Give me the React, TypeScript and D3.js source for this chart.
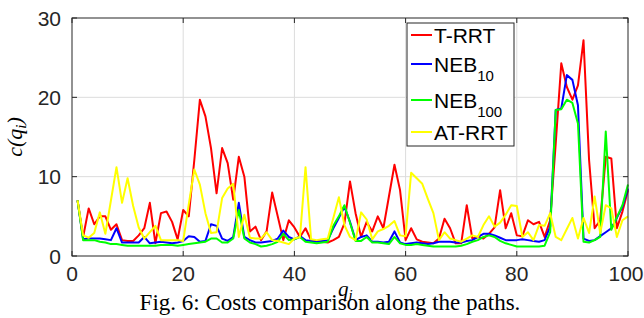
import * as d3 from "d3";

// costs per path node q_i, i = 1..100
const tRRT = [
  7.0, 2.4, 6.0, 4.0, 5.0, 5.0, 3.3, 4.0, 2.0, 1.9,
  1.9, 2.6, 3.5, 6.7, 1.6, 5.4, 5.6, 4.3, 2.1, 5.8,
  5.0, 12.1, 19.7, 17.6, 13.6, 7.9, 13.6, 11.7, 7.1, 12.5,
  10.0, 3.1, 3.7, 2.0, 3.1, 8.0, 5.0, 2.0, 4.5, 3.6,
  2.4, 3.5, 2.0, 1.9, 1.8, 1.7, 2.0, 2.4, 4.1, 9.4,
  5.4, 2.4, 4.3, 3.1, 5.0, 3.5, 7.5, 11.5, 8.3, 2.0,
  3.5, 2.1, 1.8, 1.7, 1.6, 2.2, 4.7, 3.5, 1.6, 1.6,
  6.4, 2.2, 2.4, 2.2, 2.8, 3.6, 8.3, 3.5, 5.4, 2.6,
  2.5, 4.5, 4.0, 4.3, 2.4, 4.5, 14.2, 24.3, 21.3, 19.7,
  21.5, 27.2, 12.1, 3.5, 4.5, 12.5, 12.3, 3.5, 5.6, 8.3,
];

const neb10 = [
  7.0, 2.1, 2.2, 2.2, 2.2, 2.1, 2.0, 3.5, 1.7, 1.7,
  1.7, 1.7, 2.4, 1.6, 1.7, 1.8, 1.7, 1.6, 1.7, 1.9,
  2.5, 2.4, 1.8, 1.9, 4.0, 3.8, 2.2, 1.9, 2.4, 6.7,
  2.4, 2.0, 1.7, 1.7, 1.8, 1.9, 2.2, 3.2, 2.4, 2.1,
  2.5, 2.0, 1.9, 1.8, 1.9, 2.0, 3.5, 4.8, 6.2, 4.3,
  2.0, 2.4, 2.6, 1.8, 1.8, 1.7, 1.8, 3.1, 1.7, 1.5,
  1.6, 1.7, 1.6, 1.5, 1.6, 1.8, 1.8, 1.8, 1.7, 1.7,
  1.9, 2.0, 2.4, 2.8, 2.8, 2.6, 2.3, 2.0, 2.0, 2.0,
  2.1, 2.0, 1.9, 1.8, 2.0, 3.7, 18.4, 18.6, 22.8, 22.2,
  19.0, 2.2, 1.9, 2.0, 2.5, 3.0, 3.5, 4.8, 6.2, 8.5,
];

const neb100 = [
  7.0, 2.0, 2.0, 2.0, 1.8, 1.7, 1.5, 1.5, 1.4, 1.3,
  1.3, 1.3, 1.3, 1.3, 1.3, 1.4, 1.4, 1.4, 1.3, 1.4,
  1.5, 1.6, 1.7, 1.8, 2.2, 2.2, 1.7, 1.7, 2.2, 5.8,
  2.2, 1.7, 1.5, 1.2, 1.3, 1.5, 1.8, 2.8, 2.0, 2.1,
  2.4, 1.8, 1.7, 1.6, 1.7, 1.8, 3.8, 5.0, 6.4, 4.2,
  1.9, 1.9, 2.4, 1.7, 1.7, 1.6, 1.5, 2.4, 1.6, 1.4,
  1.4, 1.5, 1.4, 1.3, 1.2, 1.2, 1.2, 1.2, 1.2, 1.3,
  1.5, 1.8, 2.0, 2.4, 2.6, 2.4, 1.9, 1.6, 1.4, 1.2,
  1.2, 1.2, 1.2, 1.2, 1.3, 3.0, 18.4, 18.5, 19.7, 19.3,
  16.7, 1.8, 1.7, 2.0, 2.4, 15.7, 3.3, 4.9, 6.4, 9.0,
];

const atRRT = [
  7.0, 2.6, 2.3, 2.9, 5.5, 2.8, 7.0, 11.2, 6.7, 9.8,
  6.3, 3.6, 2.2, 3.0, 3.8, 2.0, 2.0, 2.0, 2.0, 1.9,
  6.5, 10.9, 9.0, 5.4, 2.9, 3.0, 7.3, 8.5, 9.1, 2.4,
  5.2, 2.3, 2.2, 2.2, 3.0, 2.0, 1.9, 1.7, 1.5, 2.2,
  2.4, 11.2, 2.1, 2.0, 2.1, 2.2, 4.8, 7.4, 3.9, 2.4,
  2.0, 5.5, 4.6, 2.1, 3.1, 3.4, 3.8, 4.4, 2.6, 2.5,
  10.5, 9.8, 9.1, 7.2, 5.4, 2.0, 3.0, 2.2, 2.0, 1.8,
  2.2, 2.6, 2.4, 3.9, 5.0, 3.7, 4.2, 5.2, 6.4, 6.3,
  2.4, 3.0, 2.0, 3.9, 3.8, 5.4, 2.4, 2.0, 3.4, 4.8,
  2.2, 4.8, 2.9, 7.5, 2.9, 6.4, 6.0, 2.4, 4.5, 5.0,
];

const seriesNames = ["T-RRT", "NEB", "NEB", "AT-RRT"];
const seriesSubs = ["", "10", "100", ""];
const seriesColors = ["#ff0000", "#0000ff", "#00ff00", "#ffff00"];
const seriesData = [tRRT, neb10, neb100, atRRT];

const xTicks = [0, 20, 40, 60, 80, 100];
const yTicks = [0, 10, 20, 30];

export default function App() {
  const width = 644;
  const height = 318;
  const left = 72, right = 628, top = 18, bottom = 256;

  const x = d3.scaleLinear().domain([0, 100]).range([left, right]);
  const y = d3.scaleLinear().domain([0, 30]).range([bottom, top]);

  const line = d3
    .line<number>()
    .x((_, i) => x(i + 1))
    .y((d) => y(d));

  const tickFont = "Liberation Sans, Arial, sans-serif";
  const serif = "Liberation Serif, Times New Roman, serif";
  const axisCol = "#262626";

  return (
    <div style={{ position: "fixed", left: 0, top: 0, background: "white" }}>
      <svg width={width} height={height} style={{ display: "block" }}>
        <rect width={width} height={height} fill="white" />
        {/* grid */}
        {xTicks.slice(1, -1).map((t) => (
          <line key={"gx" + t} x1={x(t)} x2={x(t)} y1={top} y2={bottom} stroke="#dcdcdc" strokeWidth={1} />
        ))}
        {yTicks.slice(1, -1).map((t) => (
          <line key={"gy" + t} x1={left} x2={right} y1={y(t)} y2={y(t)} stroke="#dcdcdc" strokeWidth={1} />
        ))}

        {/* lines */}
        <g fill="none" strokeWidth={2} strokeLinejoin="round">
          {seriesData.map((d, k) => (
            <path key={k} d={line(d) ?? ""} stroke={seriesColors[k]} />
          ))}
        </g>

        {/* frame + ticks */}
        <rect x={left} y={top} width={right - left} height={bottom - top} fill="none" stroke={axisCol} strokeWidth={1} />
        {xTicks.map((t) => (
          <g key={"tx" + t}>
            <line x1={x(t)} x2={x(t)} y1={bottom} y2={bottom - 5} stroke={axisCol} />
            <line x1={x(t)} x2={x(t)} y1={top} y2={top + 5} stroke={axisCol} />
            <text x={t === 100 ? x(t) - 2 : x(t)} y={281} textAnchor="middle" fontFamily={tickFont} fontSize={21} fill={axisCol}>
              {t}
            </text>
          </g>
        ))}
        {yTicks.map((t) => (
          <g key={"ty" + t}>
            <line x1={left} x2={left + 5} y1={y(t)} y2={y(t)} stroke={axisCol} />
            <line x1={right} x2={right - 5} y1={y(t)} y2={y(t)} stroke={axisCol} />
            <text x={61} y={y(t) + 7.5} textAnchor="end" fontFamily={tickFont} fontSize={21} fill={axisCol}>
              {t}
            </text>
          </g>
        ))}

        {/* axis labels */}
        <text x={338} y={296} fontFamily={serif} fontStyle="italic" fontSize={21}>
          q<tspan dy={4} fontSize={15}>i</tspan>
        </text>
        <text transform="translate(22,137) rotate(-90)" textAnchor="middle" fontFamily={serif} fontStyle="italic" fontSize={22}>
          c(q<tspan dy={4} fontSize={15}>i</tspan><tspan dy={-4}>)</tspan>
        </text>

        {/* caption */}
        <text x={330} y={310} textAnchor="middle" fontFamily={serif} fontSize={23}>
          Fig. 6: Costs comparison along the paths.
        </text>

        {/* legend */}
        <rect x={407} y={23} width={107} height={123} fill="white" stroke={axisCol} strokeWidth={1} />
        {seriesNames.map((n, k) => {
          const cy = [35, 64, 100, 132][k];
          return (
            <g key={"lg" + k}>
              <line x1={411} x2={432} y1={cy} y2={cy} stroke={seriesColors[k]} strokeWidth={2} />
              <text x={434} y={cy + 7.5} fontFamily={tickFont} fontSize={21} fill="#000">
                {n}
                {seriesSubs[k] && (
                  <tspan dy={9} fontSize={15}>
                    {seriesSubs[k]}
                  </tspan>
                )}
              </text>
            </g>
          );
        })}
      </svg>
    </div>
  );
}
